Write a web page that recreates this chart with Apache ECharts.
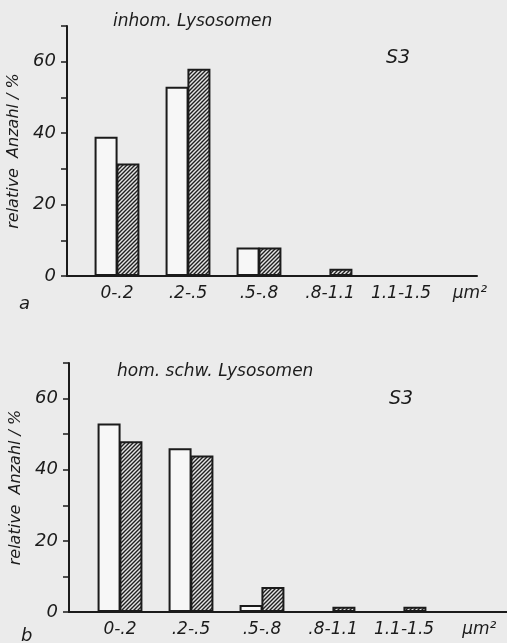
<!DOCTYPE html>
<html>
<head>
<meta charset="utf-8">
<script src="https://cdn.jsdelivr.net/npm/echarts@6/dist/echarts.min.js"></script>
<style>
html, body { margin: 0; padding: 0; background: #ebebeb; }
#chart { width: 507px; height: 643px; }
</style>
</head>
<body>
<div id="chart"></div>
<script>
// size classes (µm²)
const categories = ['0-.2', '.2-.5', '.5-.8', '.8-1.1', '1.1-1.5'];
const unitLabel = 'μm²';
// a: inhom. Lysosomen
const aOpen = [39, 53, 8, 0, 0];
const aHatched = [31.5, 58, 8, 2, 0];
// b: hom. schw. Lysosomen
const bOpen = [53, 46, 2, 0, 0];
const bHatched = [48, 44, 7, 1.5, 1.5];
const yLabels = [0, 20, 40, 60];

const ink = '#1b1b1b';
const font = 'DejaVu Sans';

function hatchTile() {
    const c = document.createElement('canvas');
    c.width = 4; c.height = 4;
    const g = c.getContext('2d');
    g.fillStyle = '#e4e4e4';
    g.fillRect(0, 0, 4, 4);
    g.strokeStyle = '#202020';
    g.lineWidth = 1.4;
    g.beginPath();
    g.moveTo(-1, 5); g.lineTo(5, -1);
    g.moveTo(-1, 1); g.lineTo(1, -1);
    g.moveTo(3, 5); g.lineTo(5, 3);
    g.stroke();
    return c;
}
const hatch = { image: hatchTile(), repeat: 'repeat' };

// bars sit on a value x axis so the first class can be offset from the y axis
const toPoints = arr => arr.map((v, i) => v > 0 ? [i + 1, v] : null).filter(p => p);

function xAxisFor(gridIndex, min, max, unitPos) {
    return {
        type: 'value', gridIndex: gridIndex, min: min, max: max,
        axisLine: { lineStyle: { color: ink, width: 2 } },
        axisTick: { show: false },
        splitLine: { show: false },
        axisLabel: {
            customValues: [1, 2, 3, 4, 5, unitPos],
            formatter: v => v > 5.5 ? unitLabel : categories[Math.round(v) - 1],
            color: ink, fontSize: 17, fontStyle: 'italic', fontFamily: font, margin: 9
        }
    };
}
function yAxisFor(gridIndex) {
    return {
        type: 'value', gridIndex: gridIndex, min: 0, max: 70, interval: 10,
        name: 'relative  Anzahl / %', nameLocation: 'middle', nameGap: 42, nameRotate: 90,
        nameTextStyle: { color: ink, fontSize: 16, fontStyle: 'italic', fontFamily: font },
        axisLine: { show: true, lineStyle: { color: ink, width: 2 } },
        axisTick: { show: true, length: 6, lineStyle: { color: ink, width: 1.5 } },
        splitLine: { show: false },
        axisLabel: {
            formatter: v => yLabels.includes(v) ? v : '',
            color: ink, fontSize: 18, fontStyle: 'italic', fontFamily: font, margin: 11
        }
    };
}
function barSeries(idx, data, fill) {
    return {
        type: 'bar', xAxisIndex: idx, yAxisIndex: idx,
        data: toPoints(data), barWidth: 23, barGap: '-5%',
        itemStyle: { color: fill, borderColor: ink, borderWidth: 2 },
        silent: true
    };
}
const txt = (text, left, top, size) => ({
    text: text, left: left, top: top,
    textStyle: { color: ink, fontSize: size, fontStyle: 'italic', fontWeight: 'normal', fontFamily: font }
});

const chart = echarts.init(document.getElementById('chart'));
chart.setOption({
    backgroundColor: '#ebebeb',
    animation: false,
    title: [
        txt('inhom. Lysosomen', 108, 8, 17),
        txt('S3', 381, 44, 19),
        txt('a', 14, 290, 18),
        txt('hom. schw. Lysosomen', 112, 358, 17),
        txt('S3', 384, 385, 19),
        txt('b', 16, 622, 18)
    ],
    grid: [
        { left: 67, top: 26, width: 410, height: 250, outerBoundsMode: 'none' },
        { left: 69, top: 363, width: 438, height: 249, outerBoundsMode: 'none' }
    ],
    xAxis: [
        xAxisFor(0, 1 - 50 / 71, 1 - 50 / 71 + 410 / 71, 5.97),
        xAxisFor(1, 1 - 51 / 71, 1 - 51 / 71 + 438 / 71, 6.06)
    ],
    yAxis: [yAxisFor(0), yAxisFor(1)],
    series: [
        barSeries(0, aOpen, '#f7f7f7'),
        barSeries(0, aHatched, hatch),
        barSeries(1, bOpen, '#f7f7f7'),
        barSeries(1, bHatched, hatch)
    ]
});
</script>
</body>
</html>
